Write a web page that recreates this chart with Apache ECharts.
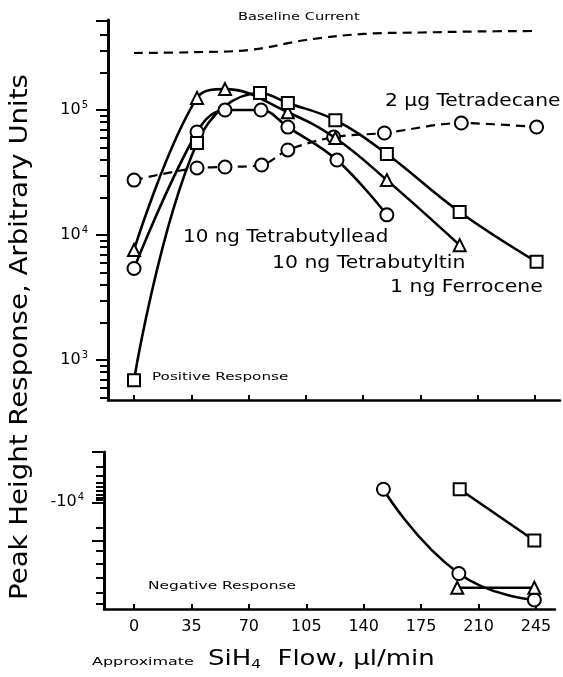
<!DOCTYPE html>
<html>
<head>
<meta charset="utf-8">
<script src="https://cdn.jsdelivr.net/npm/echarts@6/dist/echarts.min.js"></script>
<style>
html,body{margin:0;padding:0;background:#fff;}
#c{width:563px;height:677px;}
</style>
</head>
<body>
<div id="c"></div>
<script>
// ---- data ----
const flowTicks = [0, 35, 70, 105, 140, 175, 210, 245];

// Baseline current (dashed, no markers)
const baselineX = [0, 35, 70, 105, 140, 175, 210, 245];
const baselineY = [2.86e5, 2.90e5, 3.02e5, 3.63e5, 4.06e5, 4.17e5, 4.25e5, 4.29e5];

// 2 ug Tetradecane (dashed, circles)
const tetradecaneX = [0, 38.5, 55.6, 78, 94, 122, 153, 200, 246];
const tetradecaneY = [2.75e4, 3.44e4, 3.5e4, 3.63e4, 4.79e4, 6.08e4, 6.55e4, 7.87e4, 7.31e4];

// 10 ng Tetrabutyllead (solid, circles)
const leadX = [0, 38.5, 55.6, 77.6, 94, 124, 154.5];
const leadY = [5.4e3, 6.67e4, 1.0e5, 1.0e5, 7.3e4, 3.98e4, 1.45e4];

// 10 ng Tetrabutyltin (solid, triangles)
const tinX = [0, 38.5, 55.6, 94, 123, 154.5, 199];
const tinY = [7.6e3, 1.25e5, 1.47e5, 9.6e4, 5.97e4, 2.75e4, 8.3e3];

// 1 ng Ferrocene (solid, squares)
const ferroceneX = [0, 38.5, 77, 94, 123, 154.5, 199, 246];
const ferroceneY = [690, 5.45e4, 1.37e5, 1.14e5, 8.3e4, 4.45e4, 1.53e4, 6.1e3];

// Negative response (magnitudes, plotted downward)
const leadNegX = [152, 198, 244];
const leadNegY = [5.5e3, 2.6e5, 8.7e5];
const ferroceneNegX = [198.5, 244];
const ferroceneNegY = [5.5e3, 5.75e4];
const tinNegX = [197, 244];
const tinNegY = [5.0e5, 5.0e5];

// Tick values
const topMajorTicks = [1e3, 1e4, 1e5, 5.2e5];
const topMinorTicks = [500, 600, 700, 800, 900,
  2000, 3000, 4000, 5000, 6000, 7000, 8000, 9000,
  2e4, 3e4, 4e4, 5e4, 6e4, 7e4, 8e4, 9e4,
  2e5, 3e5, 4e5];
const topLabelTicks = [1e3, 1e4, 1e5];
const botMajorTicks = [1e3, 1e4, 5.75e4];
const botMinorTicks = [2000, 3000, 4000, 5000, 6000, 7000, 8000, 9000,
  3.16e4, 9.1e4, 1.66e5, 3.16e5, 6.3e5, 1.05e6];
const botLabelTicks = [1e4];

// ---- chart ----
const FONT = 'DejaVu Sans';
const pair = (xs, ys) => xs.map((x, i) => [x, ys[i]]);

const chart = echarts.init(document.getElementById('c'), null, {renderer: 'canvas'});

const markerStyle = {color: '#fff', borderColor: '#000', borderWidth: 2};

function lineSeries(name, data, xi, yi, symbol, size, dashed, smooth) {
  return {
    name, type: 'line', xAxisIndex: xi, yAxisIndex: yi,
    data, symbol, symbolSize: size, showSymbol: symbol !== 'none',
    smooth: smooth, clip: true, z: dashed ? 3 : 4,
    lineStyle: {color: '#000', width: dashed ? 2.2 : 2.6, type: dashed ? [9, 6] : 'solid'},
    itemStyle: markerStyle,
    emphasis: {disabled: true},
    animation: false
  };
}

const powRich = {
  a: {fontFamily: FONT, fontSize: 16, color: '#000'},
  s: {fontFamily: FONT, fontSize: 10, color: '#000', padding: [0, 0, 9, 1]}
};

const topMin = 479, topMax = 5.25e5;
const botMin = 1e3, botMax = 1.32e6;

function txt(x, y, text, size, sx) {
  return {type: 'text', x: x, y: y, scaleX: sx, z: 10,
    style: {text: text, font: size + 'px "DejaVu Sans"', fill: '#000', verticalAlign: 'middle', align: 'left'}};
}

const option = {
  backgroundColor: '#fff',
  animation: false,
  grid: [
    {left: 108, top: 20, width: 452, height: 380},
    {left: 104, top: 452, width: 451, height: 157}
  ],
  xAxis: [
    {
      type: 'value', gridIndex: 0, min: -15.9, max: 260.3, position: 'bottom',
      axisLine: {show: true, onZero: false, lineStyle: {color: '#000', width: 2.5}},
      axisTick: {show: true, inside: true, length: 5, customValues: flowTicks, lineStyle: {color: '#000', width: 2}},
      axisLabel: {show: false},
      splitLine: {show: false}
    },
    {
      type: 'value', gridIndex: 1, min: -18.3, max: 256.6, position: 'bottom',
      axisLine: {show: true, onZero: false, lineStyle: {color: '#000', width: 2.5}},
      axisTick: {show: true, inside: true, length: 5, customValues: flowTicks, lineStyle: {color: '#000', width: 2}},
      axisLabel: {show: true, customValues: flowTicks, fontFamily: FONT, fontSize: 16, color: '#000', margin: 10},
      splitLine: {show: false}
    }
  ],
  yAxis: [
    {
      type: 'log', logBase: 10, gridIndex: 0, min: topMin, max: topMax, position: 'left',
      axisLine: {show: true, onZero: false, lineStyle: {color: '#000', width: 3}},
      axisTick: {show: true, length: 12, customValues: topMajorTicks, lineStyle: {color: '#000', width: 2}},
      axisLabel: {show: true, customValues: topLabelTicks, color: '#000', margin: 20, rich: powRich,
        formatter: v => '{a|10}{s|' + Math.round(Math.log10(v)) + '}'},
      splitLine: {show: false}
    },
    {
      type: 'log', logBase: 10, gridIndex: 0, min: topMin, max: topMax, position: 'left',
      axisLine: {show: false, onZero: false},
      axisTick: {show: true, length: 8, customValues: topMinorTicks, lineStyle: {color: '#000', width: 2}},
      axisLabel: {show: false},
      splitLine: {show: false}
    },
    {
      type: 'log', logBase: 10, gridIndex: 1, min: botMin, max: botMax, inverse: true, position: 'left',
      axisLine: {show: true, onZero: false, lineStyle: {color: '#000', width: 3}},
      axisTick: {show: true, length: 12, customValues: botMajorTicks, lineStyle: {color: '#000', width: 2}},
      axisLabel: {show: true, customValues: botLabelTicks, color: '#000', margin: 20, rich: powRich,
        formatter: v => '{a|-10}{s|' + Math.round(Math.log10(v)) + '}'},
      splitLine: {show: false}
    },
    {
      type: 'log', logBase: 10, gridIndex: 1, min: botMin, max: botMax, inverse: true, position: 'left',
      axisLine: {show: false, onZero: false},
      axisTick: {show: true, length: 8, customValues: botMinorTicks, lineStyle: {color: '#000', width: 2}},
      axisLabel: {show: false},
      splitLine: {show: false}
    }
  ],
  series: [
    lineSeries('Baseline Current', pair(baselineX, baselineY), 0, 0, 'none', 0, true, 0.4),
    lineSeries('2 \u00B5g Tetradecane', pair(tetradecaneX, tetradecaneY), 0, 0, 'circle', 13, true, 0.3),
    lineSeries('10 ng Tetrabutyllead', pair(leadX, leadY), 0, 0, 'circle', 13, false, 0.4),
    lineSeries('10 ng Tetrabutyltin', pair(tinX, tinY), 0, 0, 'triangle', 12, false, 0.4),
    lineSeries('1 ng Ferrocene', pair(ferroceneX, ferroceneY), 0, 0, 'rect', 12, false, 0.4),
    lineSeries('Tetrabutyllead (neg)', pair(leadNegX, leadNegY), 1, 2, 'circle', 13, false, 0.5),
    lineSeries('Ferrocene (neg)', pair(ferroceneNegX, ferroceneNegY), 1, 2, 'rect', 12, false, 0),
    lineSeries('Tetrabutyltin (neg)', pair(tinNegX, tinNegY), 1, 2, 'triangle', 12, false, 0)
  ],
  graphic: [
    txt(238, 17, 'Baseline Current', 11, 1.33),
    txt(385, 102, '2 \u00B5g Tetradecane', 17, 1.19),
    txt(183, 238, '10 ng Tetrabutyllead', 17, 1.17),
    txt(272, 264, '10 ng Tetrabutyltin', 17, 1.2),
    txt(390, 288, '1 ng Ferrocene', 17, 1.2),
    txt(152, 377, 'Positive Response', 11, 1.38),
    txt(148, 586, 'Negative Response', 11, 1.4),
    txt(92, 662, 'Approximate', 11, 1.45),
    {type: 'text', x: 208, y: 648, scaleX: 1.18, z: 10, style: {
      rich: {
        b: {fontFamily: FONT, fontSize: 22, color: '#000'},
        s: {fontFamily: FONT, fontSize: 13, color: '#000', padding: [10, 0, 0, 0]}
      },
      text: '{b|SiH}{s|4}{b|  Flow, \u00B5l/min}'
    }},
    {type: 'text', x: 21, y: 337, rotation: Math.PI / 2, scaleX: 1.15, z: 10, style: {
      text: 'Peak Height Response, Arbitrary Units', font: '24px "DejaVu Sans"', fill: '#000',
      align: 'center', verticalAlign: 'middle'
    }}
  ]
};
chart.setOption(option);
</script>
</body>
</html>
